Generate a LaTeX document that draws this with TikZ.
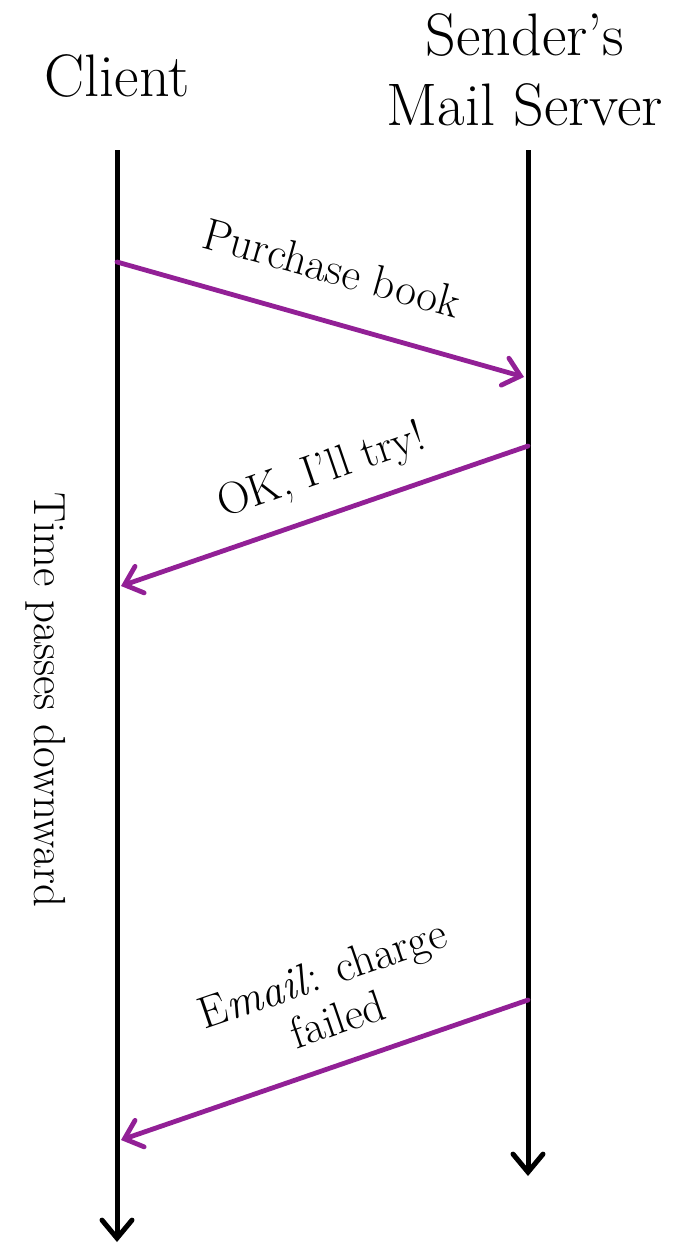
\documentclass[tikz,border=0pt]{standalone}
\usetikzlibrary{arrows.meta}
\definecolor{msg}{RGB}{146,32,150}
\begin{document}
\begin{tikzpicture}[x=1pt,y=-1pt,
  life/.style={line width=5pt,-{Straight Barb[length=18pt,width=30pt,line cap=round]}},
  msgarrow/.style={draw=msg,line width=4.8pt,line cap=round,-{Straight Barb[length=16pt,width=28pt,line cap=round]}},
  head/.style={font=\fontsize{60}{70}\selectfont,align=center},
  lbl/.style={font=\fontsize{45}{48}\selectfont,align=center}]
\useasboundingbox (0,0) rectangle (692,1245);
\node[head] (client) at (117,76) {Client};
\node[head] (server) at (525,70) {Sender's\\Mail Server};
\coordinate (c0) at (117,150);
\coordinate (c1) at (117,1242);
\coordinate (s0) at (528,150);
\coordinate (s1) at (528,1176);
\draw[life] (c0) -- (c1);
\draw[life] (s0) -- (s1);
\coordinate (a1s) at (117,262);
\coordinate (a1e) at (524,377);
\coordinate (a2s) at (528,446);
\coordinate (a2e) at (121,586);
\coordinate (a3s) at (528,1000);
\coordinate (a3e) at (121,1140);
\draw[msgarrow] (a1s) -- (a1e);
\draw[msgarrow] (a2s) -- (a2e);
\draw[msgarrow] (a3s) -- (a3e);
\node[lbl,rotate=-15.7] (l1) at (332,268) {Purchase book};
\node[lbl,rotate=18.9] (l2) at (322,472) {OK, I'll try!};
\node[lbl,rotate=18.9] (l3) at (330,996) {E\textit{mail}: charge\\failed};
\node[lbl,rotate=-90] (time) at (46,700) {Time passes downward};
\end{tikzpicture}
\end{document}
